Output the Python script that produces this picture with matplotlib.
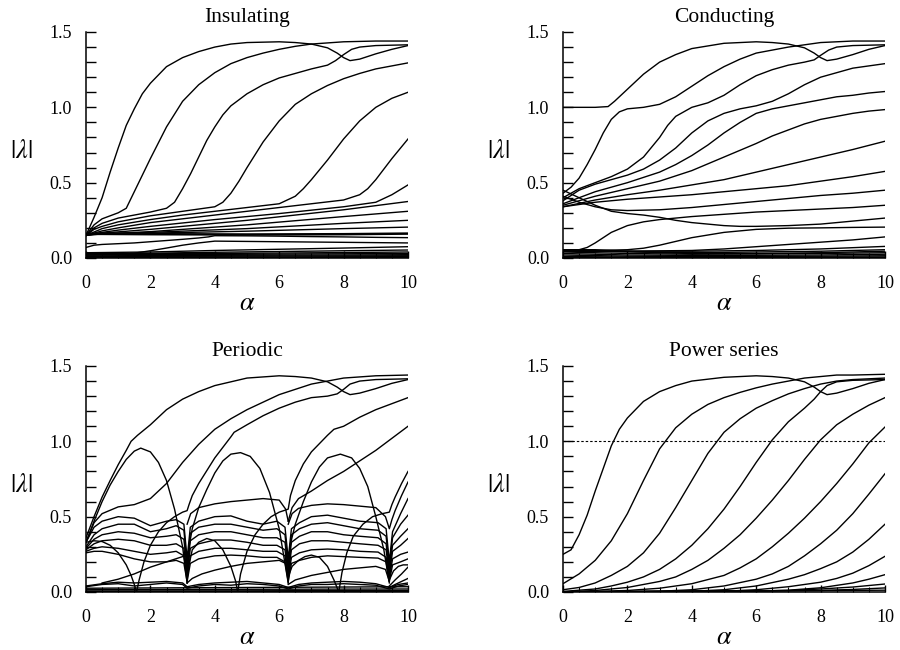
import matplotlib
matplotlib.use("Agg")
import matplotlib.pyplot as plt
from matplotlib.ticker import MultipleLocator

plt.rcParams["font.family"] = ["Liberation Serif", "DejaVu Serif"]
plt.rcParams["mathtext.fontset"] = "stix"

# ---------------- Insulating ----------------
ins_rising = [
    ([0, 0.25, 0.5, 0.75, 1, 1.25, 1.5, 1.75, 2, 2.5, 3, 3.5, 4, 4.5, 5, 6, 6.5, 7, 7.5, 7.8, 8.0, 8.2, 8.5, 9, 9.5, 10],
     [0.15, 0.27, 0.40, 0.57, 0.73, 0.88, 0.99, 1.09, 1.16, 1.27, 1.33, 1.37, 1.40, 1.42, 1.43, 1.435, 1.43, 1.42, 1.395, 1.36, 1.33, 1.31, 1.32, 1.355, 1.385, 1.41]),
    ([0, 0.25, 0.5, 1, 1.25, 1.5, 1.75, 2, 2.5, 3, 3.5, 4, 4.5, 5, 5.5, 6, 6.5, 7, 8, 9, 10],
     [0.15, 0.22, 0.26, 0.30, 0.33, 0.44, 0.55, 0.66, 0.87, 1.04, 1.15, 1.23, 1.29, 1.33, 1.36, 1.385, 1.405, 1.42, 1.435, 1.44, 1.44]),
    ([0, 0.25, 0.5, 1, 2, 2.5, 2.75, 3, 3.25, 3.5, 3.75, 4, 4.25, 4.5, 5, 5.5, 6, 6.5, 7, 7.5, 7.75, 8, 8.25, 8.5, 9, 10],
     [0.15, 0.20, 0.23, 0.265, 0.305, 0.33, 0.37, 0.46, 0.56, 0.67, 0.78, 0.87, 0.95, 1.01, 1.09, 1.15, 1.195, 1.225, 1.255, 1.28, 1.31, 1.35, 1.385, 1.40, 1.41, 1.415]),
    ([0, 0.25, 0.5, 1, 2, 3, 4, 4.25, 4.5, 4.75, 5, 5.5, 6, 6.5, 7, 7.5, 8, 8.5, 9, 9.5, 10],
     [0.15, 0.19, 0.21, 0.24, 0.28, 0.31, 0.34, 0.37, 0.43, 0.51, 0.60, 0.77, 0.91, 1.02, 1.09, 1.145, 1.19, 1.225, 1.255, 1.275, 1.295]),
    ([0, 0.5, 1, 2, 3, 4, 5, 6, 6.5, 6.75, 7, 7.5, 8, 8.5, 9, 9.5, 10],
     [0.15, 0.195, 0.22, 0.255, 0.285, 0.31, 0.335, 0.36, 0.41, 0.46, 0.52, 0.65, 0.79, 0.91, 1.0, 1.06, 1.10]),
    ([0, 0.5, 1, 2, 3, 4, 5, 6, 7, 8, 8.5, 8.75, 9, 9.5, 10],
     [0.15, 0.18, 0.20, 0.235, 0.26, 0.285, 0.31, 0.335, 0.36, 0.385, 0.42, 0.46, 0.52, 0.66, 0.79]),
    ([0, 0.5, 1, 2, 4, 6, 8, 9, 9.5, 10],
     [0.15, 0.17, 0.185, 0.21, 0.255, 0.295, 0.34, 0.37, 0.42, 0.485]),
]
ins_fan_alpha = [0, 0.5, 2, 5, 8, 10]
ins_fan = [
    [0.15, 0.165, 0.19, 0.25, 0.32, 0.375],
    [0.15, 0.16, 0.175, 0.22, 0.275, 0.31],
    [0.155, 0.16, 0.17, 0.195, 0.23, 0.25],
    [0.16, 0.162, 0.165, 0.178, 0.195, 0.205],
]
ins_bold = [0.16, 0.16, 0.158, 0.156, 0.158, 0.162]
ins_lower = [
    ([0, 0.25, 0.5, 1, 1.5, 2, 2.5, 3, 3.5, 3.8, 4, 5, 6, 7, 8, 9, 10],
     [0.07, 0.085, 0.09, 0.095, 0.10, 0.108, 0.116, 0.124, 0.133, 0.14, 0.148, 0.147, 0.145, 0.142, 0.14, 0.137, 0.135]),
    ([1.2, 1.5, 2, 2.5, 3, 3.5, 4, 5, 6, 7, 8, 9, 10],
     [0.025, 0.032, 0.048, 0.066, 0.085, 0.10, 0.112, 0.11, 0.108, 0.106, 0.104, 0.102, 0.10]),
]
ins_floor_alpha = [0, 2, 4, 6, 8, 10]
ins_floor = [
    [0.035, 0.04, 0.05, 0.058, 0.066, 0.075],
    [0.03, 0.032, 0.038, 0.043, 0.048, 0.053],
    [0.03, 0.028, 0.03, 0.033, 0.036, 0.04],
    [0.025, 0.022, 0.024, 0.026, 0.028, 0.03],
    [0.02, 0.017, 0.018, 0.019, 0.02, 0.022],
    [0.015, 0.012, 0.012, 0.013, 0.014, 0.015],
    [0.01, 0.008, 0.007, 0.007, 0.008, 0.009],
    [0.005, 0.004, 0.003, 0.003, 0.004, 0.004],
]

# ---------------- Conducting ----------------
cond_rising = [
    ([0, 0.5, 1, 1.4, 1.6, 1.8, 2, 2.5, 3, 3.5, 4, 5, 6, 6.5, 7, 7.5, 7.8, 8, 8.2, 8.5, 9, 9.5, 10],
     [1.0, 1.0, 1.0, 1.005, 1.04, 1.08, 1.12, 1.22, 1.30, 1.35, 1.39, 1.425, 1.435, 1.43, 1.42, 1.395, 1.36, 1.33, 1.31, 1.32, 1.35, 1.385, 1.41]),
    ([0, 0.25, 0.5, 0.75, 1, 1.25, 1.5, 1.75, 2, 2.5, 3, 3.5, 4, 4.5, 5, 5.5, 6, 7, 8, 9, 10],
     [0.43, 0.47, 0.53, 0.62, 0.72, 0.83, 0.92, 0.97, 0.99, 1.0, 1.02, 1.07, 1.14, 1.21, 1.27, 1.32, 1.36, 1.40, 1.43, 1.44, 1.44]),
    ([0, 0.5, 1, 1.5, 2, 2.5, 3, 3.25, 3.5, 4, 4.5, 5, 5.5, 6, 6.5, 7, 7.5, 7.8, 8, 8.25, 8.5, 9, 10],
     [0.40, 0.46, 0.50, 0.54, 0.59, 0.67, 0.80, 0.88, 0.94, 1.0, 1.03, 1.08, 1.15, 1.21, 1.25, 1.28, 1.30, 1.315, 1.345, 1.38, 1.40, 1.41, 1.415]),
    ([0, 0.5, 1, 1.5, 2, 2.5, 3, 3.5, 4, 4.5, 5, 5.5, 6, 6.5, 7, 7.5, 8, 8.5, 9, 9.5, 10],
     [0.38, 0.45, 0.49, 0.52, 0.55, 0.59, 0.65, 0.73, 0.83, 0.91, 0.96, 0.99, 1.01, 1.04, 1.09, 1.15, 1.20, 1.23, 1.26, 1.275, 1.29]),
    ([0, 1, 2, 3, 3.5, 4, 4.5, 5, 5.5, 6, 6.5, 7, 7.5, 8, 8.5, 9, 9.5, 10],
     [0.36, 0.44, 0.50, 0.57, 0.62, 0.68, 0.75, 0.83, 0.90, 0.96, 0.99, 1.01, 1.03, 1.05, 1.07, 1.08, 1.095, 1.105]),
    ([0, 1, 2, 3, 4, 5, 6, 6.5, 7, 7.5, 8, 8.5, 9, 9.5, 10],
     [0.35, 0.41, 0.46, 0.51, 0.58, 0.67, 0.76, 0.81, 0.85, 0.89, 0.92, 0.94, 0.96, 0.975, 0.985]),
    ([0, 1, 2, 3, 4, 5, 6, 7, 8, 9, 10],
     [0.34, 0.385, 0.42, 0.45, 0.485, 0.52, 0.57, 0.62, 0.67, 0.72, 0.775]),
    ([0, 1, 2, 3, 4, 5, 6, 7, 8, 9, 10],
     [0.34, 0.37, 0.39, 0.405, 0.42, 0.44, 0.46, 0.48, 0.51, 0.54, 0.575]),
]
cond_lower = [
    ([0, 0.5, 1, 1.5, 2, 2.5, 3, 3.5, 4, 4.5, 5, 5.5, 6, 7, 8, 9, 10],
     [0.45, 0.40, 0.35, 0.31, 0.295, 0.285, 0.27, 0.25, 0.235, 0.225, 0.215, 0.21, 0.21, 0.215, 0.225, 0.245, 0.265]),
    ([0, 0.5, 1, 1.5, 2, 3, 4, 5, 6, 7, 8, 9, 10],
     [0.41, 0.37, 0.34, 0.32, 0.315, 0.32, 0.335, 0.355, 0.375, 0.395, 0.415, 0.43, 0.45]),
    ([0, 0.5, 0.75, 1, 1.5, 2, 2.5, 3, 4, 5, 6, 7, 8, 9, 10],
     [0.05, 0.055, 0.07, 0.10, 0.17, 0.215, 0.24, 0.255, 0.275, 0.29, 0.305, 0.315, 0.325, 0.335, 0.35]),
    ([0, 1, 2, 2.5, 3, 3.5, 4, 5, 6, 7, 8, 9, 10],
     [0.05, 0.05, 0.055, 0.065, 0.085, 0.11, 0.135, 0.17, 0.19, 0.198, 0.2, 0.203, 0.205]),
    ([0, 2, 4, 5, 6, 7, 8, 9, 10],
     [0.045, 0.045, 0.05, 0.06, 0.075, 0.09, 0.105, 0.12, 0.14]),
    ([0, 4, 6, 8, 10],
     [0.045, 0.045, 0.05, 0.06, 0.077]),
    ([0, 1, 1.5, 2, 3, 4, 6, 8, 10],
     [0.055, 0.055, 0.05, 0.045, 0.035, 0.03, 0.03, 0.035, 0.045]),
]
cond_floor_alpha = [0, 2, 4, 6, 8, 10]
cond_floor = [
    [0.05, 0.04, 0.035, 0.04, 0.045, 0.055],
    [0.04, 0.03, 0.025, 0.027, 0.03, 0.035],
    [0.03, 0.02, 0.017, 0.018, 0.02, 0.025],
    [0.02, 0.012, 0.01, 0.011, 0.012, 0.015],
    [0.01, 0.006, 0.005, 0.005, 0.006, 0.007],
    [0.004, 0.002, 0.002, 0.002, 0.003, 0.003],
]

# ---------------- Periodic ----------------
per_upper = [
    ([0, 0.25, 0.5, 0.75, 1, 1.25, 1.4, 1.6, 2, 2.5, 3, 3.5, 4, 5, 6, 6.5, 7, 7.5, 7.8, 8, 8.2, 8.5, 9, 9.5, 10],
     [0.36, 0.50, 0.63, 0.74, 0.845, 0.94, 1.0, 1.04, 1.11, 1.21, 1.28, 1.33, 1.37, 1.42, 1.435, 1.43, 1.42, 1.395, 1.36, 1.33, 1.31, 1.32, 1.35, 1.385, 1.41]),
    ([0, 0.25, 0.5, 1, 1.5, 2, 2.5, 3, 3.5, 4, 4.5, 5, 6, 7, 8, 9, 10],
     [0.33, 0.46, 0.52, 0.565, 0.58, 0.62, 0.72, 0.86, 0.98, 1.08, 1.15, 1.21, 1.31, 1.38, 1.42, 1.435, 1.44]),
    ([1.57, 1.65, 1.8, 2.0, 2.25, 2.5, 2.75, 3.0, 3.14, 3.2, 3.3, 3.5, 4, 4.5, 4.6, 5, 5.5, 6, 6.5, 7, 7.5, 7.8, 8, 8.2, 8.5, 9, 10],
     [0.0, 0.08, 0.20, 0.31, 0.40, 0.46, 0.50, 0.53, 0.54, 0.58, 0.64, 0.72, 0.89, 1.03, 1.06, 1.11, 1.17, 1.22, 1.26, 1.29, 1.30, 1.315, 1.345, 1.38, 1.40, 1.41, 1.415]),
    ([4.71, 4.8, 5.0, 5.25, 5.5, 5.75, 6.0, 6.28, 6.35, 6.5, 6.75, 7, 7.5, 7.7, 8, 8.5, 9, 9.5, 10],
     [0.0, 0.12, 0.27, 0.38, 0.45, 0.50, 0.53, 0.55, 0.64, 0.74, 0.85, 0.93, 1.04, 1.08, 1.10, 1.16, 1.21, 1.25, 1.29]),
    ([7.85, 7.95, 8.1, 8.3, 8.6, 8.9, 9.2, 9.42, 9.5, 9.6, 9.8, 10],
     [0.0, 0.13, 0.26, 0.37, 0.45, 0.50, 0.52, 0.53, 0.58, 0.63, 0.72, 0.80]),
    ([3.14, 3.25, 3.5, 4, 4.5, 5, 5.5, 6, 6.2, 6.28],
     [0.45, 0.52, 0.56, 0.585, 0.60, 0.61, 0.62, 0.61, 0.55, 0.47]),
    ([6.28, 6.4, 6.6, 7, 7.5, 8, 8.5, 9, 9.5, 10],
     [0.47, 0.56, 0.62, 0.67, 0.74, 0.80, 0.87, 0.94, 1.02, 1.10]),
    ([6.28, 6.4, 6.6, 7, 7.5, 8, 8.5, 9, 9.3, 9.42, 9.5, 9.6, 9.8, 10],
     [0.45, 0.52, 0.555, 0.575, 0.585, 0.58, 0.57, 0.56, 0.50, 0.42, 0.48, 0.54, 0.64, 0.73]),
]
per_arches = [
    ([0, 0.25, 0.5, 0.75, 1, 1.25, 1.5, 1.7, 2, 2.25, 2.5, 2.75, 3, 3.14],
     [0.33, 0.47, 0.60, 0.71, 0.80, 0.88, 0.935, 0.955, 0.93, 0.86, 0.74, 0.55, 0.30, 0.06]),
    ([3.14, 3.2, 3.3, 3.5, 3.75, 4, 4.25, 4.5, 4.8, 5.1, 5.4, 5.7, 6.0, 6.28],
     [0.06, 0.30, 0.42, 0.56, 0.68, 0.79, 0.87, 0.915, 0.925, 0.90, 0.82, 0.66, 0.42, 0.06]),
    ([6.28, 6.35, 6.5, 6.75, 7, 7.25, 7.5, 7.9, 8.25, 8.5, 8.75, 9, 9.25, 9.42],
     [0.06, 0.32, 0.45, 0.60, 0.73, 0.83, 0.89, 0.915, 0.89, 0.82, 0.70, 0.50, 0.28, 0.06]),
    ([0, 0.25, 0.5, 0.75, 1, 1.25, 1.4, 1.5, 1.57],
     [0.33, 0.34, 0.335, 0.31, 0.26, 0.18, 0.11, 0.05, 0.0]),
    ([3.14, 3.3, 3.5, 3.75, 4.0, 4.25, 4.5, 4.65, 4.71],
     [0.12, 0.28, 0.33, 0.355, 0.34, 0.28, 0.17, 0.07, 0.0]),
    ([6.28, 6.4, 6.6, 6.8, 7.0, 7.25, 7.5, 7.7, 7.85],
     [0.10, 0.17, 0.21, 0.235, 0.245, 0.23, 0.17, 0.08, 0.0]),
    ([9.42, 9.55, 9.7, 9.85, 10],
     [0.08, 0.14, 0.17, 0.18, 0.18]),
]
per_grid = [0, 0.25, 0.5, 1, 1.5, 2, 2.5, 2.8, 3.04, 3.14, 3.24, 3.5, 4, 4.5, 5, 5.5,
            5.93, 6.18, 6.28, 6.38, 6.63, 7, 7.5, 8, 8.5, 9.07, 9.32, 9.42, 9.52, 9.77, 10]
per_flat = [
    [0.33, 0.43, 0.47, 0.50, 0.49, 0.44, 0.47, 0.48, 0.45, 0.22, 0.43, 0.47, 0.50, 0.505, 0.47, 0.45,
     0.47, 0.43, 0.22, 0.42, 0.46, 0.50, 0.51, 0.49, 0.47, 0.46, 0.42, 0.20, 0.40, 0.52, 0.62],
    [0.30, 0.38, 0.42, 0.45, 0.45, 0.40, 0.42, 0.44, 0.41, 0.18, 0.39, 0.43, 0.45, 0.45, 0.43, 0.41,
     0.42, 0.38, 0.18, 0.38, 0.42, 0.45, 0.46, 0.44, 0.42, 0.41, 0.37, 0.17, 0.36, 0.45, 0.51],
    [0.29, 0.35, 0.38, 0.40, 0.39, 0.36, 0.37, 0.38, 0.35, 0.15, 0.34, 0.38, 0.40, 0.40, 0.38, 0.36,
     0.36, 0.33, 0.15, 0.33, 0.37, 0.40, 0.40, 0.38, 0.37, 0.36, 0.32, 0.14, 0.31, 0.37, 0.42],
    [0.28, 0.32, 0.34, 0.35, 0.34, 0.31, 0.31, 0.32, 0.29, 0.12, 0.29, 0.32, 0.345, 0.345, 0.33, 0.31,
     0.31, 0.28, 0.12, 0.28, 0.32, 0.34, 0.34, 0.33, 0.32, 0.31, 0.28, 0.11, 0.27, 0.31, 0.355],
    [0.27, 0.29, 0.30, 0.29, 0.27, 0.25, 0.26, 0.27, 0.24, 0.09, 0.24, 0.27, 0.29, 0.29, 0.28, 0.27,
     0.27, 0.24, 0.09, 0.23, 0.26, 0.28, 0.285, 0.28, 0.27, 0.265, 0.23, 0.09, 0.22, 0.25, 0.265],
    [0.26, 0.27, 0.27, 0.25, 0.22, 0.20, 0.20, 0.21, 0.19, 0.07, 0.19, 0.22, 0.24, 0.245, 0.24, 0.23,
     0.23, 0.20, 0.07, 0.19, 0.21, 0.23, 0.24, 0.235, 0.23, 0.225, 0.20, 0.07, 0.18, 0.20, 0.22],
]
per_lower = [
    ([0.5, 1, 1.5, 2, 2.5, 3.0, 3.14], [0.06, 0.085, 0.12, 0.165, 0.20, 0.235, 0.24]),
    ([3.14, 3.3, 3.6, 4, 4.5, 5, 5.5, 6, 6.2, 6.28], [0.06, 0.09, 0.12, 0.145, 0.17, 0.19, 0.20, 0.21, 0.19, 0.10]),
    ([6.28, 6.5, 7, 7.5, 8, 8.5, 9, 9.3, 9.42], [0.05, 0.08, 0.11, 0.13, 0.15, 0.16, 0.17, 0.15, 0.07]),
    ([9.42, 9.6, 9.8, 10], [0.04, 0.08, 0.12, 0.165]),
    ([9.42, 9.6, 9.8, 10], [0.03, 0.05, 0.07, 0.09]),
]
per_band_alpha = [0, 0.5, 1, 1.5, 2, 2.5, 3, 3.14, 3.5, 4, 4.5, 5, 5.5, 6, 6.28, 6.6, 7, 7.5, 8, 8.5, 9, 9.42, 9.7, 10]
per_band = [
    [0.04, 0.055, 0.065, 0.06, 0.065, 0.07, 0.06, 0.035, 0.05, 0.06, 0.065, 0.07, 0.06, 0.05, 0.03,
     0.05, 0.06, 0.065, 0.07, 0.065, 0.055, 0.03, 0.05, 0.06],
    [0.035, 0.05, 0.055, 0.04, 0.05, 0.06, 0.05, 0.025, 0.04, 0.05, 0.045, 0.055, 0.05, 0.04, 0.02,
     0.04, 0.05, 0.05, 0.055, 0.05, 0.045, 0.02, 0.04, 0.05],
]
per_floor_alpha = [0, 5, 10]
per_floor = [
    [0.025, 0.03, 0.035],
    [0.015, 0.018, 0.02],
    [0.007, 0.008, 0.01],
    [0.002, 0.002, 0.003],
]

# ---------------- Power series ----------------
pow_curves = [
    ([0, 0.25, 0.5, 0.75, 1, 1.25, 1.5, 1.75, 2, 2.5, 3, 3.5, 4, 5, 6, 6.5, 7, 7.5, 7.8, 8, 8.2, 8.5, 9, 9.5, 10],
     [0.25, 0.28, 0.38, 0.51, 0.67, 0.82, 0.97, 1.08, 1.155, 1.265, 1.33, 1.37, 1.40, 1.425, 1.435, 1.43, 1.42, 1.395, 1.36, 1.33, 1.31, 1.32, 1.35, 1.385, 1.41]),
    ([0, 0.5, 1, 1.5, 2, 2.5, 3, 3.5, 4, 4.5, 5, 5.5, 6, 6.5, 7, 7.5, 8, 8.5, 9, 10],
     [0.055, 0.12, 0.21, 0.34, 0.52, 0.74, 0.95, 1.09, 1.18, 1.245, 1.29, 1.325, 1.355, 1.38, 1.40, 1.42, 1.43, 1.44, 1.44, 1.445]),
    ([0, 0.5, 1, 1.5, 2, 2.5, 3, 3.5, 4, 4.5, 5, 5.5, 6, 6.5, 7, 7.5, 8, 8.5, 9, 9.5, 10],
     [0.015, 0.03, 0.06, 0.11, 0.17, 0.26, 0.39, 0.56, 0.74, 0.92, 1.06, 1.15, 1.22, 1.27, 1.315, 1.35, 1.38, 1.40, 1.41, 1.415, 1.42]),
    ([0, 1, 1.5, 2, 2.5, 3, 3.5, 4, 4.5, 5, 5.5, 6, 6.5, 7, 7.5, 7.8, 8, 8.2, 8.5, 9, 10],
     [0.004, 0.02, 0.04, 0.065, 0.10, 0.15, 0.22, 0.31, 0.42, 0.55, 0.70, 0.86, 1.01, 1.13, 1.22, 1.28, 1.33, 1.37, 1.395, 1.405, 1.41]),
    ([0, 1, 2, 3, 3.5, 4, 4.5, 5, 5.5, 6, 6.5, 7, 7.5, 8, 8.5, 9, 9.5, 10],
     [0, 0.01, 0.03, 0.07, 0.10, 0.15, 0.21, 0.29, 0.38, 0.49, 0.61, 0.74, 0.88, 1.01, 1.11, 1.18, 1.24, 1.29]),
    ([0, 2, 3, 4, 5, 5.5, 6, 6.5, 7, 7.5, 8, 8.5, 9, 9.5, 10],
     [0, 0.01, 0.025, 0.055, 0.11, 0.16, 0.22, 0.30, 0.39, 0.49, 0.60, 0.72, 0.85, 0.99, 1.095]),
    ([0, 3, 4, 5, 6, 6.5, 7, 7.5, 8, 8.5, 9, 9.5, 10],
     [0, 0.005, 0.015, 0.04, 0.085, 0.12, 0.17, 0.24, 0.32, 0.41, 0.52, 0.65, 0.785]),
    ([0, 4, 5, 6, 7, 7.5, 8, 8.5, 9, 9.5, 10],
     [0, 0.005, 0.015, 0.04, 0.085, 0.115, 0.155, 0.20, 0.265, 0.35, 0.45]),
    ([0, 5, 6, 7, 8, 8.5, 9, 9.5, 10],
     [0, 0.005, 0.015, 0.035, 0.065, 0.09, 0.125, 0.175, 0.237]),
    ([0, 6, 7, 8, 9, 9.5, 10],
     [0, 0.005, 0.012, 0.028, 0.06, 0.085, 0.115]),
    ([0, 7, 8, 9, 10], [0, 0.01, 0.02, 0.033, 0.053]),
    ([0, 8, 9, 10], [0, 0.01, 0.017, 0.027]),
    ([0, 10], [0, 0.012]),
]


def plot_panel(ax, title, curves, dashed=False):
    """
    draw one panel of eigenvalue magnitudes against alpha
    ax: matplotlib axes object
    title: string - panel title
    curves: list of (alpha, value, linewidth) tuples
    dashed: boolean - draw the |lambda| = 1 reference line
    """
    for alpha, value, lw in curves:
        ax.plot(alpha, value, color="k", lw=lw, solid_joinstyle="round")
    if dashed:
        ax.axhline(1.0, color="k", lw=0.8, ls=(0, (2.2, 1.8)))

    ax.set_xlim(0, 10)
    ax.set_ylim(0, 1.5)
    for side in ("top", "right"):
        ax.spines[side].set_visible(False)
    for side in ("left", "bottom"):
        ax.spines[side].set_linewidth(1.1)

    ax.xaxis.set_major_locator(MultipleLocator(2))
    ax.xaxis.set_minor_locator(MultipleLocator(0.5))
    ax.yaxis.set_major_locator(MultipleLocator(0.5))
    ax.yaxis.set_minor_locator(MultipleLocator(0.1))
    ax.yaxis.set_major_formatter(plt.FormatStrFormatter("%.1f"))
    ax.tick_params(axis="y", which="both", direction="in", length=7.5,
                   width=1.0, pad=10, labelsize=13)
    ax.tick_params(axis="x", which="major", direction="in", length=5,
                   width=1.0, pad=12, labelsize=13)
    ax.tick_params(axis="x", which="minor", direction="in", length=3.5,
                   width=0.8)

    ax.set_title(title, fontsize=15.5, pad=7)
    ax.text(0.5, -0.205, r"$\alpha$", transform=ax.transAxes, ha="center",
            va="center", fontsize=19)
    ax.text(-0.2, 0.47, r"$|\lambda|$", transform=ax.transAxes, ha="center",
            va="center", fontsize=19)


fig = plt.figure(figsize=(9, 6.5), dpi=100)
w, h = 322 / 900, 226 / 650
ax_ins = fig.add_axes([86 / 900, 1 - 258 / 650, w, h])
ax_con = fig.add_axes([563 / 900, 1 - 258 / 650, w, h])
ax_per = fig.add_axes([86 / 900, 1 - 592 / 650, w, h])
ax_pow = fig.add_axes([563 / 900, 1 - 592 / 650, w, h])

lw = 1.0
ins = [(a, v, lw) for a, v in ins_rising + ins_lower]
ins += [(ins_fan_alpha, v, lw) for v in ins_fan]
ins += [(ins_fan_alpha, ins_bold, 1.8)]
ins += [(ins_floor_alpha, v, lw) for v in ins_floor]
plot_panel(ax_ins, "Insulating", ins)

con = [(a, v, lw) for a, v in cond_rising + cond_lower]
con += [(cond_floor_alpha, v, lw) for v in cond_floor]
plot_panel(ax_con, "Conducting", con)

per = [(a, v, lw) for a, v in per_upper + per_arches + per_lower]
per += [(per_grid, v, lw) for v in per_flat]
per += [(per_band_alpha, v, lw) for v in per_band]
per += [(per_floor_alpha, v, lw) for v in per_floor]
plot_panel(ax_per, "Periodic", per)

pw = [(a, v, lw) for a, v in pow_curves]
plot_panel(ax_pow, "Power series", pw, dashed=True)

fig.savefig("out.png", dpi=100)
